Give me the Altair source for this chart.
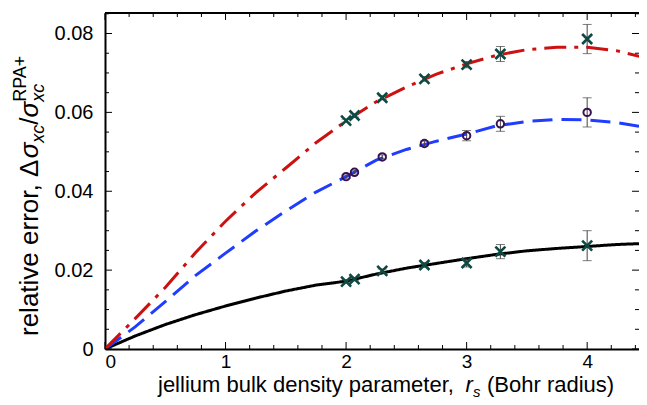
import altair as alt
import pandas as pd

# ---------------- data ----------------
rs_grid = [0.0, 0.25, 0.5, 0.75, 1.0, 1.25, 1.5, 1.75, 2.0, 2.25, 2.5, 2.75,
           3.0, 3.25, 3.5, 3.75, 4.0, 4.25, 4.5]
red_curve = [0.0, 0.0077, 0.0156, 0.0244, 0.0324, 0.0396, 0.0459, 0.0523, 0.0578,
             0.0627, 0.0664, 0.0697, 0.0723, 0.0745, 0.0759, 0.0765, 0.0765, 0.0756, 0.0737]
blue_curve = [0.0, 0.0056, 0.0120, 0.0186, 0.0243, 0.0299, 0.0350, 0.0398, 0.0437,
              0.0479, 0.0506, 0.0527, 0.0545, 0.0566, 0.0577, 0.0582, 0.0581, 0.0574, 0.0561]
black_curve = [0.0, 0.0033, 0.0062, 0.0087, 0.0109, 0.0129, 0.0147, 0.0162, 0.0172,
               0.0190, 0.0205, 0.0217, 0.0229, 0.0240, 0.0249, 0.0255, 0.0260, 0.0265, 0.0268]

rs_pts = [2.0, 2.07, 2.3, 2.65, 3.0, 3.28, 4.0]
red_pts = [0.0579, 0.0592, 0.0637, 0.0685, 0.0721, 0.0748, 0.0786]
red_err = [0.0004, 0.0004, 0.0005, 0.0006, 0.0008, 0.0019, 0.0037]
blue_pts = [0.0437, 0.0448, 0.0487, 0.0521, 0.0541, 0.0571, 0.0600]
blue_err = [0.0004, 0.0004, 0.0005, 0.0006, 0.0013, 0.0019, 0.0037]
black_pts = [0.0171, 0.0177, 0.0198, 0.0213, 0.0218, 0.0247, 0.0262]
black_err = [0.0004, 0.0004, 0.0005, 0.0006, 0.0010, 0.0018, 0.0038]

x_labels = [0, 1, 2, 3, 4]
y_labels = [0.0, 0.02, 0.04, 0.06, 0.08]
x_minor = [round(0.2 * k, 1) for k in range(23)]
y_minor = [round(0.005 * k, 3) for k in range(18)]

# ---------------- layout ----------------
W, H = 534, 336
X_MAX, Y_MAX = 4.43, 0.0852
FONT = "Liberation Sans"
xs = alt.Scale(domain=[0, X_MAX], nice=False, zero=False)
ys = alt.Scale(domain=[0, Y_MAX], nice=False, zero=False)

curves = pd.DataFrame({
    "rs": rs_grid * 3,
    "v": red_curve + blue_curve + black_curve,
    "s": ["red"] * len(rs_grid) + ["blue"] * len(rs_grid) + ["black"] * len(rs_grid),
})
pts = pd.DataFrame({
    "rs": rs_pts * 3,
    "v": red_pts + blue_pts + black_pts,
    "e": red_err + blue_err + black_err,
    "s": ["red"] * 7 + ["blue"] * 7 + ["black"] * 7,
})
pts["lo"] = pts["v"] - pts["e"]
pts["hi"] = pts["v"] + pts["e"]
one = pd.DataFrame({"k": [0]})

xaxis = alt.Axis(values=x_labels, format="d", ticks=False, grid=False, domain=True,
                 domainColor="black", domainWidth=2, labelFont=FONT, labelFontSize=19,
                 labelColor="black", labelPadding=3, title=None)
yaxis = alt.Axis(values=y_labels, ticks=False, grid=False, domain=True,
                 domainColor="black", domainWidth=2, labelFont=FONT, labelFontSize=20,
                 labelColor="black", labelPadding=12, title=None,
                 labelExpr="datum.value == 0 ? '0' : format(datum.value, '.2f')")


def X(f):
    return alt.X(f, type="quantitative", scale=xs, axis=xaxis)


def Y(f):
    return alt.Y(f, type="quantitative", scale=ys, axis=yaxis)


def line(name, color, dash):
    return alt.Chart(curves[curves.s == name]).mark_line(
        color=color, strokeWidth=3, strokeDash=dash, clip=True).encode(x=X("rs"), y=Y("v"))


black_line = line("black", "black", [1, 0])
blue_line = line("blue", "#1f3cff", [20, 9])
red_line = line("red", "#cc1111", [22, 8, 4, 8])

base_pts = alt.Chart(pts)
err = base_pts.mark_rule(color="#444444", strokeWidth=1).encode(
    x=X("rs"), y=Y("lo"), y2="hi:Q")
cap_lo = base_pts.mark_tick(color="#444444", orient="horizontal", size=9, thickness=1).encode(
    x=X("rs"), y=Y("lo"))
cap_hi = base_pts.mark_tick(color="#444444", orient="horizontal", size=9, thickness=1).encode(
    x=X("rs"), y=Y("hi"))

xmark = alt.Chart(pts[pts.s != "blue"]).mark_point(
    shape="M-1,-1L1,1M-1,1L1,-1", filled=False, strokeWidth=2.6, size=100,
    color="#0e4a42", opacity=1).encode(x=X("rs"), y=Y("v"))
omark = alt.Chart(pts[pts.s == "blue"]).mark_point(
    shape="circle", filled=False, strokeWidth=2, size=55, color="#3a1150", opacity=1).encode(
    x=X("rs"), y=Y("v"))

# ---------------- inward ticks on all four sides ----------------
xt = pd.DataFrame({"t": x_minor})
xt["major"] = xt["t"].apply(lambda t: abs(t - round(t)) < 1e-9)
yt = pd.DataFrame({"t": y_minor})
yt["major"] = yt["t"].apply(lambda t: abs(t / 0.02 - round(t / 0.02)) < 1e-6)


def ticks_x(df, y0, y1):
    return alt.Chart(df).mark_rule(color="black", strokeWidth=1).encode(
        x=X("t"), y=alt.value(y0), y2=alt.value(y1))


def ticks_y(df, x0, x1):
    return alt.Chart(df).mark_rule(color="black", strokeWidth=1).encode(
        y=Y("t"), x=alt.value(x0), x2=alt.value(x1))


tick_layers = [
    ticks_x(xt[xt.major], H, H - 7), ticks_x(xt[~xt.major], H, H - 4),
    ticks_x(xt[xt.major], 0, 7), ticks_x(xt[~xt.major], 0, 4),
    ticks_y(yt[yt.major], 0, 7), ticks_y(yt[~yt.major], 0, 4),
    ticks_y(yt[yt.major], W, W - 7), ticks_y(yt[~yt.major], W, W - 4),
]
top_border = alt.Chart(one).mark_rule(color="black", strokeWidth=2).encode(
    x=alt.value(0), x2=alt.value(W), y=alt.value(0))


# ---------------- titles with sub/superscripts ----------------
def txt(s, x, y, size, italic=False, angle=0):
    kw = dict(text=s, font=FONT, fontSize=size, color="black", align="left",
              baseline="alphabetic")
    if italic:
        kw["fontStyle"] = "italic"
    if angle:
        kw["angle"] = angle
    return alt.Chart(one).mark_text(**kw).encode(x=alt.value(x), y=alt.value(y))


FX, FXS = 22, 15
xb = 379
x0 = 53
xt_parts = [
    txt("jellium bulk density parameter,", x0, xb, FX),
    txt("r", x0 + 307.6, xb, FX, italic=True),
    txt("s", x0 + 315.0, xb + 5, FXS, italic=True),
    txt("(Bohr radius)", x0 + 329.0, xb, FX),
]

FY, FYS = 26, 18
yb = -67
y0 = 323
p1 = y0
p2 = p1 - 6.836 * FY
p3 = p2 - 0.6 * FY
p4 = p3 - 1.0 * FYS
p5 = p4 - 0.278 * FY
p6 = p5 - 0.6 * FY
yt_parts = [
    txt("relative error, Δ", yb, p1, FY, angle=270),
    txt("σ", yb, p2, FY, italic=True, angle=270),
    txt("xc", yb + 6, p3, FYS, italic=True, angle=270),
    txt("/", yb, p4, FY, angle=270),
    txt("σ", yb, p5, FY, italic=True, angle=270),
    txt("xc", yb + 6, p6, FYS, italic=True, angle=270),
    txt("RPA+", yb - 12, p6, FYS, angle=270),
]

chart = alt.layer(
    black_line, blue_line, red_line, err, cap_lo, cap_hi, xmark, omark,
    top_border, *tick_layers, *xt_parts, *yt_parts,
).properties(
    width=W, height=H,
    autosize=alt.AutoSizeParams(type="none"),
    padding={"left": 97, "top": 5, "right": 0, "bottom": 50},
    background="white",
).configure_view(stroke=None)

chart.save("out.html", embed_options={"renderer": "svg", "actions": False})
